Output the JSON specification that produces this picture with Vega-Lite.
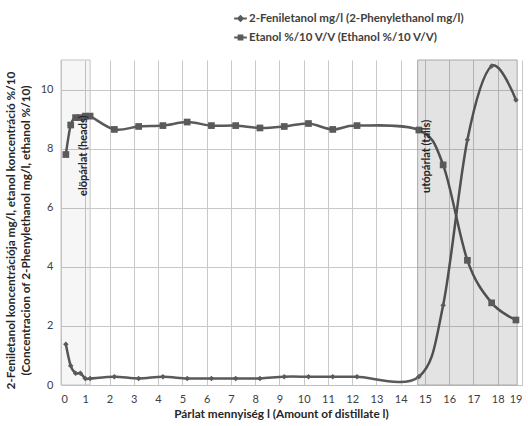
{
  "$schema": "https://vega.github.io/schema/vega-lite/v6.json",
  "width": 461,
  "height": 325,
  "autosize": {"type": "none"},
  "padding": {"left": 61, "top": 60, "right": 6, "bottom": 41},
  "config": {
    "view": {"stroke": null},
    "font": "Lato"
  },
  "resolve": {"scale": {"shape": "independent"}},
  "datasets": {
    "series": [
      {"series": "2-Feniletanol mg/l (2-Phenylethanol mg/l)", "x": 0.2, "y": 1.38},
      {"series": "2-Feniletanol mg/l (2-Phenylethanol mg/l)", "x": 0.4, "y": 0.65},
      {"series": "2-Feniletanol mg/l (2-Phenylethanol mg/l)", "x": 0.6, "y": 0.4},
      {"series": "2-Feniletanol mg/l (2-Phenylethanol mg/l)", "x": 0.8, "y": 0.4},
      {"series": "2-Feniletanol mg/l (2-Phenylethanol mg/l)", "x": 1.0, "y": 0.22},
      {"series": "2-Feniletanol mg/l (2-Phenylethanol mg/l)", "x": 1.2, "y": 0.22},
      {"series": "2-Feniletanol mg/l (2-Phenylethanol mg/l)", "x": 2.2, "y": 0.28},
      {"series": "2-Feniletanol mg/l (2-Phenylethanol mg/l)", "x": 3.2, "y": 0.22},
      {"series": "2-Feniletanol mg/l (2-Phenylethanol mg/l)", "x": 4.2, "y": 0.28},
      {"series": "2-Feniletanol mg/l (2-Phenylethanol mg/l)", "x": 5.2, "y": 0.22},
      {"series": "2-Feniletanol mg/l (2-Phenylethanol mg/l)", "x": 6.2, "y": 0.22},
      {"series": "2-Feniletanol mg/l (2-Phenylethanol mg/l)", "x": 7.2, "y": 0.22},
      {"series": "2-Feniletanol mg/l (2-Phenylethanol mg/l)", "x": 8.2, "y": 0.22},
      {"series": "2-Feniletanol mg/l (2-Phenylethanol mg/l)", "x": 9.2, "y": 0.28},
      {"series": "2-Feniletanol mg/l (2-Phenylethanol mg/l)", "x": 10.2, "y": 0.28},
      {"series": "2-Feniletanol mg/l (2-Phenylethanol mg/l)", "x": 11.2, "y": 0.28},
      {"series": "2-Feniletanol mg/l (2-Phenylethanol mg/l)", "x": 12.2, "y": 0.28},
      {"series": "2-Feniletanol mg/l (2-Phenylethanol mg/l)", "x": 14.75, "y": 0.28},
      {"series": "2-Feniletanol mg/l (2-Phenylethanol mg/l)", "x": 15.75, "y": 2.7},
      {"series": "2-Feniletanol mg/l (2-Phenylethanol mg/l)", "x": 16.75, "y": 8.3},
      {"series": "2-Feniletanol mg/l (2-Phenylethanol mg/l)", "x": 17.75, "y": 10.8},
      {"series": "2-Feniletanol mg/l (2-Phenylethanol mg/l)", "x": 18.75, "y": 9.65},
      {"series": "Etanol %/10 V/V (Ethanol %/10 V/V)", "x": 0.2, "y": 7.8},
      {"series": "Etanol %/10 V/V (Ethanol %/10 V/V)", "x": 0.4, "y": 8.8},
      {"series": "Etanol %/10 V/V (Ethanol %/10 V/V)", "x": 0.6, "y": 9.05},
      {"series": "Etanol %/10 V/V (Ethanol %/10 V/V)", "x": 0.8, "y": 9.05},
      {"series": "Etanol %/10 V/V (Ethanol %/10 V/V)", "x": 1.0, "y": 9.1},
      {"series": "Etanol %/10 V/V (Ethanol %/10 V/V)", "x": 1.2, "y": 9.1},
      {"series": "Etanol %/10 V/V (Ethanol %/10 V/V)", "x": 2.2, "y": 8.65},
      {"series": "Etanol %/10 V/V (Ethanol %/10 V/V)", "x": 3.2, "y": 8.75},
      {"series": "Etanol %/10 V/V (Ethanol %/10 V/V)", "x": 4.2, "y": 8.78},
      {"series": "Etanol %/10 V/V (Ethanol %/10 V/V)", "x": 5.2, "y": 8.9},
      {"series": "Etanol %/10 V/V (Ethanol %/10 V/V)", "x": 6.2, "y": 8.78},
      {"series": "Etanol %/10 V/V (Ethanol %/10 V/V)", "x": 7.2, "y": 8.78},
      {"series": "Etanol %/10 V/V (Ethanol %/10 V/V)", "x": 8.2, "y": 8.7},
      {"series": "Etanol %/10 V/V (Ethanol %/10 V/V)", "x": 9.2, "y": 8.75},
      {"series": "Etanol %/10 V/V (Ethanol %/10 V/V)", "x": 10.2, "y": 8.85},
      {"series": "Etanol %/10 V/V (Ethanol %/10 V/V)", "x": 11.2, "y": 8.65},
      {"series": "Etanol %/10 V/V (Ethanol %/10 V/V)", "x": 12.2, "y": 8.78},
      {"series": "Etanol %/10 V/V (Ethanol %/10 V/V)", "x": 14.75, "y": 8.63},
      {"series": "Etanol %/10 V/V (Ethanol %/10 V/V)", "x": 15.75, "y": 7.45},
      {"series": "Etanol %/10 V/V (Ethanol %/10 V/V)", "x": 16.75, "y": 4.22},
      {"series": "Etanol %/10 V/V (Ethanol %/10 V/V)", "x": 17.75, "y": 2.78},
      {"series": "Etanol %/10 V/V (Ethanol %/10 V/V)", "x": 18.75, "y": 2.2}
    ],
    "regions": [
      {"region": "heads", "start": 0, "end": 1.2, "bottom": 0, "top": 11},
      {"region": "tails", "start": 14.7, "end": 18.8, "bottom": 0, "top": 11}
    ],
    "notes": [
      {"label": "elöpárlat (heads)", "x": 0.95, "y": 6.4},
      {"label": "utópárlat (tails)", "x": 15.1, "y": 6.5}
    ]
  },
  "layer": [
    {
      "data": {"name": "series"},
      "mark": {"type": "line", "interpolate": "cardinal", "color": "#5a5a5a", "strokeWidth": 2.5},
      "encoding": {
        "x": {"field": "x", "type": "quantitative", "scale": {"domain": [0, 19], "nice": false, "zero": false},
          "axis": {"values": [0,1,2,3,4,5,6,7,8,9,10,11,12,13,14,15,16,17,18,19], "tickCount": 40, "format": "d", "grid": true, "labelOverlap": false,
            "ticks": false, "gridColor": "#c8c8c8", "domainColor": "#bfbfbf", "labelFont": "Lato", "labelFontSize": 11, "labelColor": "#404040", "labelPadding": 8,
            "title": "Párlat mennyiség l (Amount of distillate  l)", "titleFont": "Lato", "titleFontSize": 11.8, "titleFontWeight": "bold", "titleColor": "#262626",
            "titlePadding": 4, "titleX": 220, "titleAnchor": "middle", "titleAlign": "center"}},
        "y": {"field": "y", "type": "quantitative", "scale": {"domain": [0, 11], "nice": false},
          "axis": {"values": [0,2,4,6,8,10], "tickCount": 40, "format": "d", "grid": true, "domain": false,
            "ticks": false, "gridColor": "#c8c8c8", "labelFont": "Lato", "labelFontSize": 11, "labelColor": "#404040", "labelPadding": 8,
            "title": ["2-Feniletanol koncentrációja mg/l, etanol koncentráció %/10", "(Concentracion of  2-Phenylethanol mg/l, ethanol %/10)"],
            "titleFont": "Lato", "titleFontSize": 11.8, "titleFontWeight": "bold", "titleColor": "#262626",
            "titleAngle": 270, "titleX": -56, "titleY": 170, "titleBaseline": "top", "titleLineHeight": 15, "titleAlign": "center"}},
        "detail": {"field": "series"}
      }
    },
    {
      "data": {"name": "regions"},
      "transform": [{"filter": "datum.region === 'heads'"}],
      "mark": {"type": "rect", "fill": "#000000", "fillOpacity": 0.035, "stroke": "#c4c4c4", "strokeWidth": 1},
      "encoding": {
        "x": {"field": "start", "type": "quantitative"},
        "x2": {"field": "end"},
        "y": {"field": "bottom", "type": "quantitative"},
        "y2": {"field": "top"}
      }
    },
    {
      "data": {"name": "regions"},
      "transform": [{"filter": "datum.region === 'tails'"}],
      "mark": {"type": "rect", "fill": "#000000", "fillOpacity": 0.11, "stroke": "#a8a8a8", "strokeWidth": 1},
      "encoding": {
        "x": {"field": "start", "type": "quantitative"},
        "x2": {"field": "end"},
        "y": {"field": "bottom", "type": "quantitative"},
        "y2": {"field": "top"}
      }
    },
    {
      "data": {"name": "series"},
      "mark": {"type": "point", "filled": true, "color": "#5a5a5a", "opacity": 1},
      "encoding": {
        "x": {"field": "x", "type": "quantitative"},
        "y": {"field": "y", "type": "quantitative"},
        "shape": {"field": "series", "type": "nominal",
          "scale": {"domain": ["2-Feniletanol mg/l (2-Phenylethanol mg/l)", "Etanol %/10 V/V (Ethanol %/10 V/V)"], "range": ["diamond", "square"]},
          "legend": null},
        "size": {"condition": {"test": "datum.series === 'Etanol %/10 V/V (Ethanol %/10 V/V)'", "value": 45}, "value": 30}
      }
    },
    {
      "data": {"name": "series"},
      "transform": [{"filter": "datum.x > 100"}],
      "mark": {"type": "point", "filled": false, "color": "#5a5a5a", "strokeWidth": 2, "opacity": 1},
      "encoding": {
        "x": {"field": "x", "type": "quantitative"},
        "y": {"field": "y", "type": "quantitative"},
        "shape": {"field": "series", "type": "nominal",
          "scale": {"domain": ["2-Feniletanol mg/l (2-Phenylethanol mg/l)", "Etanol %/10 V/V (Ethanol %/10 V/V)"],
            "range": ["M-1,0L1,0M0,-0.38L0.38,0L0,0.38L-0.38,0Z", "M-1,0L1,0M-0.3,-0.3L0.3,-0.3L0.3,0.3L-0.3,0.3Z"]},
          "legend": {"title": null, "orient": "none", "legendX": 172, "legendY": -49, "direction": "vertical",
            "labelFont": "Lato", "labelFontSize": 11.5, "labelFontWeight": "bold", "labelColor": "#404040", "rowPadding": 5, "labelOffset": 1, "labelLimit": 400,
            "symbolSize": 160, "symbolOpacity": 1, "symbolStrokeWidth": 2,
            "encode": {"symbols": {"stroke": {"value": "#5a5a5a"}, "strokeWidth": {"value": 2}, "fill": {"value": "#5a5a5a"}, "opacity": {"value": 1}}}}}
      }
    },
    {
      "data": {"name": "notes"},
      "mark": {"type": "text", "angle": 270, "align": "left", "baseline": "middle", "font": "Lato", "fontSize": 11, "fontWeight": "bold", "color": "#262626"},
      "encoding": {
        "x": {"field": "x", "type": "quantitative"},
        "y": {"field": "y", "type": "quantitative"},
        "text": {"field": "label"}
      }
    }
  ]
}
